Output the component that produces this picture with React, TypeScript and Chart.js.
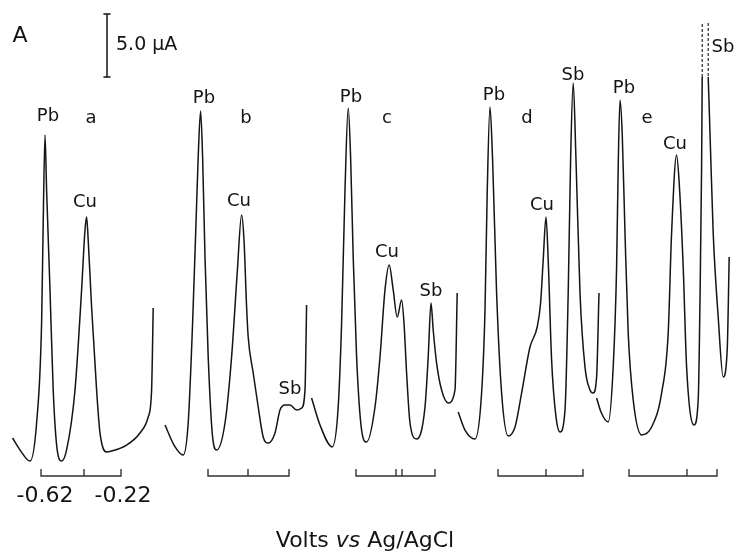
import React, { useEffect, useRef } from "react";
import { Chart, registerables } from "chart.js";

Chart.register(...registerables);

// ---------- data (potential E in V vs Ag/AgCl, current I in µA) ----------
const TRACE_NAMES = ["a", "b", "c", "d", "e"];

const A_E = [-0.762, -0.725, -0.675, -0.642, -0.617, -0.609, -0.600, -0.592, -0.575, -0.559, -0.539, -0.517, -0.492, -0.450, -0.417, -0.400, -0.392, -0.384, -0.367, -0.342, -0.325, -0.292, -0.267, -0.192, -0.125, -0.084, -0.067, -0.059];
const A_I = [2.54, 1.59, 0.71, 3.73, 11.67, 19.60, 26.59, 22.22, 14.29, 6.35, 1.59, 0.71, 1.59, 6.35, 14.29, 19.05, 20.08, 18.25, 12.94, 6.35, 2.94, 1.43, 1.51, 1.98, 2.94, 4.21, 6.35, 12.86];

const B_E = [-0.835, -0.790, -0.744, -0.719, -0.697, -0.680, -0.669, -0.657, -0.647, -0.635, -0.619, -0.597, -0.577, -0.535, -0.502, -0.474, -0.452, -0.440, -0.427, -0.419, -0.394, -0.369, -0.344, -0.319, -0.285, -0.260, -0.235, -0.210, -0.177, -0.152, -0.135, -0.127];
const B_I = [3.57, 1.98, 1.19, 3.73, 11.67, 19.60, 24.84, 28.49, 24.84, 16.90, 8.97, 2.62, 1.59, 3.73, 8.97, 15.63, 20.24, 18.25, 12.94, 10.56, 7.70, 5.00, 2.62, 2.14, 2.94, 4.76, 5.16, 5.16, 4.76, 4.92, 6.35, 13.10];

const C_E = [-0.842, -0.800, -0.739, -0.709, -0.692, -0.675, -0.659, -0.647, -0.634, -0.617, -0.592, -0.567, -0.525, -0.500, -0.475, -0.454, -0.434, -0.414, -0.392, -0.380, -0.367, -0.350, -0.317, -0.275, -0.259, -0.245, -0.234, -0.217, -0.192, -0.159, -0.125, -0.114];
const C_I = [5.71, 3.57, 1.83, 5.00, 11.67, 22.22, 28.73, 24.84, 16.90, 8.97, 3.17, 2.22, 5.00, 8.97, 14.29, 16.27, 14.29, 12.14, 13.49, 11.67, 7.70, 3.73, 2.46, 5.00, 8.97, 13.25, 11.11, 8.49, 6.35, 5.32, 6.35, 14.05];

const D_E = [-0.819, -0.785, -0.735, -0.702, -0.685, -0.674, -0.660, -0.647, -0.627, -0.602, -0.569, -0.535, -0.502, -0.460, -0.424, -0.407, -0.394, -0.380, -0.369, -0.352, -0.330, -0.310, -0.285, -0.269, -0.257, -0.244, -0.230, -0.210, -0.185, -0.160, -0.144, -0.127, -0.115];
const D_I = [4.60, 3.17, 2.46, 6.11, 12.70, 21.98, 28.81, 24.60, 14.05, 6.11, 2.70, 3.41, 6.11, 9.76, 11.35, 13.25, 16.67, 20.08, 16.67, 8.73, 4.21, 3.02, 4.76, 14.05, 24.60, 30.71, 24.60, 14.05, 8.17, 6.35, 6.11, 7.38, 14.05];

// trace e: Sb peak runs off scale (dashed part)
const E_RISE_E = [-0.782, -0.760, -0.724, -0.699, -0.682, -0.674, -0.665, -0.654, -0.640, -0.624, -0.599, -0.557, -0.507, -0.457, -0.424, -0.407, -0.382, -0.369, -0.349, -0.332, -0.295, -0.274, -0.265, -0.257, -0.254];
const E_RISE_I = [5.71, 4.60, 3.81, 8.17, 16.11, 24.05, 29.37, 26.75, 18.81, 10.87, 5.56, 2.78, 3.41, 6.11, 10.87, 18.81, 25.00, 22.78, 16.11, 8.17, 3.57, 5.56, 13.49, 24.05, 31.19];
const E_FALL_E = [-0.224, -0.215, -0.199, -0.174, -0.149, -0.129, -0.119];
const E_FALL_I = [31.19, 26.75, 18.81, 12.14, 7.38, 9.52, 16.90];
const E_OFFSCALE_E = [-0.254, -0.224];
const E_OFFSCALE_I = [31.19, 35.48];

// potential scale brackets (left end, inner ticks, right end)
const BRACKET_A = [-0.62, -0.405, -0.22];
const BRACKET_B = [-0.62, -0.42, -0.215];
const BRACKET_C = [-0.62, -0.42, -0.39, -0.225];
const BRACKET_D = [-0.62, -0.38, -0.195];
const BRACKET_E = [-0.62, -0.33, -0.18];
const BRACKET_TEXT = ["-0.62", "-0.22"];

// peak labels per trace: name, E, I
const LABELS_A = { names: ["Pb", "a", "Cu"], e: [-0.585, -0.37, -0.40], i: [28.10, 27.94, 21.27] };
const LABELS_B = { names: ["Pb", "b", "Cu", "Sb"], e: [-0.64, -0.43, -0.465, -0.21], i: [29.52, 27.94, 21.35, 6.43] };
const LABELS_C = { names: ["Pb", "c", "Cu", "Sb"], e: [-0.645, -0.465, -0.465, -0.245], i: [29.60, 27.94, 17.30, 14.21] };
const LABELS_D = { names: ["Pb", "d", "Cu", "Sb"], e: [-0.64, -0.475, -0.40, -0.245], i: [29.76, 27.94, 21.03, 31.35] };
const LABELS_E = { names: ["Pb", "e", "Cu", "Sb"], e: [-0.645, -0.53, -0.39, -0.15], i: [30.32, 27.94, 25.87, 33.57] };

const SCALE_BAR_UA = 5.0;
const SCALE_BAR_TEXT = "5.0 \u03bcA";
const PANEL_TEXT = "A";

// ---------- layout ----------
const W = 737;
const H = 555;
const X_SHIFT = [0.825, 1.66, 2.40, 3.11, 3.765];
const X_MIN = 0;
const X_MAX = 3.685;
const Y_MIN = -6.746;
const Y_MAX = 37.302;
const BR_BOT = -0.48;
const BR_TOP = 0.08;
const SCALE_BAR_X = 0.535;
const SCALE_BAR_BASE = 31.19;
const INK = "#141414";
const FONT = '"DejaVu Sans", sans-serif';

type P = { x: number; y: number | null };

function pts(E: number[], I: number[], shift: number): P[] {
  return E.map((e, k) => ({ x: e + shift, y: I[k] }));
}

function bracketPts(ticks: number[], shift: number): P[] {
  const L = ticks[0] + shift;
  const R = ticks[ticks.length - 1] + shift;
  const out: P[] = [
    { x: L, y: BR_TOP },
    { x: L, y: BR_BOT },
    { x: R, y: BR_BOT },
    { x: R, y: BR_TOP },
  ];
  ticks.slice(1, -1).forEach((t) => {
    out.push({ x: t + shift, y: null });
    out.push({ x: t + shift, y: BR_BOT });
    out.push({ x: t + shift, y: BR_TOP });
  });
  return out;
}

const lineBase = {
  borderColor: INK,
  borderWidth: 1.5,
  pointRadius: 0,
  fill: false,
  clip: false as const,
};

export default function App() {
  const ref = useRef<HTMLCanvasElement | null>(null);

  useEffect(() => {
    const canvas = ref.current;
    if (!canvas) return;

    const traces = [
      { E: A_E, I: A_I },
      { E: B_E, I: B_I },
      { E: C_E, I: C_I },
      { E: D_E, I: D_I },
    ];
    const brackets = [BRACKET_A, BRACKET_B, BRACKET_C, BRACKET_D, BRACKET_E];
    const labels = [LABELS_A, LABELS_B, LABELS_C, LABELS_D, LABELS_E];

    const datasets: any[] = [];
    traces.forEach((t, k) => {
      datasets.push({
        ...lineBase,
        label: "trace " + TRACE_NAMES[k],
        data: pts(t.E, t.I, X_SHIFT[k]),
        cubicInterpolationMode: "monotone",
      });
    });
    datasets.push({
      ...lineBase,
      label: "trace e",
      data: pts(E_RISE_E, E_RISE_I, X_SHIFT[4]),
      cubicInterpolationMode: "monotone",
    });
    datasets.push({
      ...lineBase,
      label: "trace e (fall)",
      data: pts(E_FALL_E, E_FALL_I, X_SHIFT[4]),
      cubicInterpolationMode: "monotone",
    });
    datasets.push({
      ...lineBase,
      label: "trace e off scale",
      borderDash: [3, 2],
      borderWidth: 1.1,
      tension: 0,
      spanGaps: false,
      data: [
        { x: E_OFFSCALE_E[0] + X_SHIFT[4], y: E_OFFSCALE_I[0] },
        { x: E_OFFSCALE_E[0] + X_SHIFT[4], y: E_OFFSCALE_I[1] },
        { x: E_OFFSCALE_E[1] + X_SHIFT[4], y: null },
        { x: E_OFFSCALE_E[1] + X_SHIFT[4], y: E_OFFSCALE_I[1] },
        { x: E_OFFSCALE_E[1] + X_SHIFT[4], y: E_OFFSCALE_I[0] },
      ],
    });
    brackets.forEach((b, k) => {
      datasets.push({
        ...lineBase,
        label: "bracket " + TRACE_NAMES[k],
        borderWidth: 1.4,
        borderColor: "#333",
        tension: 0,
        spanGaps: false,
        data: bracketPts(b, X_SHIFT[k]),
      });
    });
    const cap = 0.018;
    datasets.push({
      ...lineBase,
      label: "scale bar",
      tension: 0,
      spanGaps: false,
      data: [
        { x: SCALE_BAR_X, y: SCALE_BAR_BASE },
        { x: SCALE_BAR_X, y: SCALE_BAR_BASE + SCALE_BAR_UA },
        { x: SCALE_BAR_X - cap, y: null },
        { x: SCALE_BAR_X - cap, y: SCALE_BAR_BASE + SCALE_BAR_UA },
        { x: SCALE_BAR_X + cap, y: SCALE_BAR_BASE + SCALE_BAR_UA },
        { x: SCALE_BAR_X + cap, y: null },
        { x: SCALE_BAR_X - cap, y: SCALE_BAR_BASE },
        { x: SCALE_BAR_X + cap, y: SCALE_BAR_BASE },
      ],
    });

    const textPlugin = {
      id: "texts",
      afterDatasetsDraw(chart: any) {
        const { ctx, scales } = chart;
        const xs = scales.x;
        const ys = scales.y;
        ctx.save();
        ctx.fillStyle = INK;
        ctx.textAlign = "center";
        ctx.textBaseline = "middle";
        ctx.font = "18px " + FONT;
        labels.forEach((lab, k) => {
          lab.names.forEach((n, j) => {
            ctx.fillText(
              n,
              xs.getPixelForValue(lab.e[j] + X_SHIFT[k]),
              ys.getPixelForValue(lab.i[j])
            );
          });
        });
        // panel letter
        ctx.font = "22px " + FONT;
        ctx.fillText(PANEL_TEXT, 20, 36);
        // scale bar text
        ctx.font = "19px " + FONT;
        ctx.textAlign = "left";
        ctx.fillText(
          SCALE_BAR_TEXT,
          xs.getPixelForValue(SCALE_BAR_X) + 9,
          ys.getPixelForValue(SCALE_BAR_BASE + SCALE_BAR_UA / 2)
        );
        // bracket values for trace a
        ctx.textAlign = "center";
        ctx.font = "22px " + FONT;
        const by = ys.getPixelForValue(BR_BOT) + 20;
        ctx.fillText(BRACKET_TEXT[0], xs.getPixelForValue(BRACKET_A[0] + X_SHIFT[0]) + 4, by);
        ctx.fillText(BRACKET_TEXT[1], xs.getPixelForValue(BRACKET_A[BRACKET_A.length - 1] + X_SHIFT[0]) + 2, by);
        // axis title: Volts vs Ag/AgCl
        const p1 = "Volts ";
        const p2 = "vs";
        const p3 = " Ag/AgCl";
        ctx.font = "22px " + FONT;
        const w1 = ctx.measureText(p1).width;
        const w3 = ctx.measureText(p3).width;
        ctx.font = "italic 22px " + FONT;
        const w2 = ctx.measureText(p2).width;
        const total = w1 + w2 + w3;
        const x0 = 365 - total / 2;
        const ty = 541;
        ctx.textAlign = "left";
        ctx.font = "22px " + FONT;
        ctx.fillText(p1, x0, ty);
        ctx.font = "italic 22px " + FONT;
        ctx.fillText(p2, x0 + w1, ty);
        ctx.font = "22px " + FONT;
        ctx.fillText(p3, x0 + w1 + w2, ty);
        ctx.restore();
      },
    };

    const chart = new Chart(canvas, {
      type: "line",
      data: { datasets },
      options: {
        animation: false,
        responsive: false,
        devicePixelRatio: 1,
        layout: { padding: 0 },
        plugins: {
          legend: { display: false },
          tooltip: { enabled: false },
        },
        scales: {
          x: { type: "linear", min: X_MIN, max: X_MAX, display: false },
          y: { type: "linear", min: Y_MIN, max: Y_MAX, display: false },
        },
      },
      plugins: [textPlugin],
    });
    return () => chart.destroy();
  }, []);

  return (
    <div style={{ position: "absolute", left: 0, top: 0, width: W, height: H, background: "#fff" }}>
      <canvas ref={ref} width={W} height={H} style={{ width: W, height: H, display: "block" }} />
    </div>
  );
}
